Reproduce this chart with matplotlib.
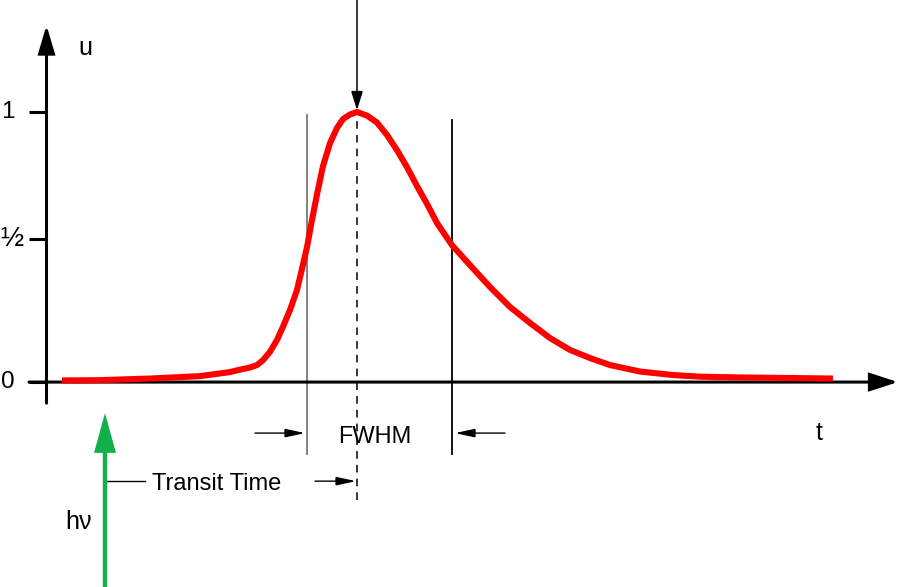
import matplotlib
matplotlib.use("Agg")
import matplotlib.pyplot as plt

plt.rcParams['font.family'] = ['Liberation Sans Narrow', 'Liberation Sans', 'DejaVu Sans']

# ---- Pulse response (t in drawing units, u normalised) ----
T_CURVE = [62, 100, 150, 200, 230, 240, 250, 257, 263, 270, 277, 283, 290, 297,
           303, 307, 312, 317, 323, 330, 337, 343, 350, 357, 367, 377, 387, 397,
           407, 417, 427, 437, 452, 470, 490, 510, 530, 550, 570, 590, 610, 640,
           673, 700, 740, 790, 833]
U_CURVE = [0.006, 0.007, 0.013, 0.022, 0.037, 0.046, 0.054, 0.063, 0.081, 0.112,
           0.156, 0.205, 0.267, 0.341, 0.435, 0.500, 0.600, 0.695, 0.800, 0.885,
           0.941, 0.974, 0.991, 1.000, 0.987, 0.961, 0.915, 0.859, 0.796, 0.726,
           0.660, 0.589, 0.507, 0.433, 0.352, 0.278, 0.219, 0.163, 0.119, 0.089,
           0.063, 0.039, 0.026, 0.020, 0.017, 0.015, 0.013]

TICK_U = [0.0, 0.53, 1.0]
TICK_LABELS = ["0", "\u00bd", "1"]

T_FWHM = [307, 452]      # half-maximum crossings
T_PEAK = 357             # peak / transit time
T_PHOTON = 105           # photon arrival (h nu)

U_BOTTOM, U_TOP = -0.759, 1.415

fig = plt.figure(figsize=(9.0, 5.87), dpi=100)
ax = fig.add_axes([0, 0, 1, 1])
ax.set_xlim(0, 900)
ax.set_ylim(U_BOTTOM, U_TOP)
ax.axis("off")


def arrow(x0, y0, x1, y1, lw=1.0, hl=12, hw=3, color="black"):
    ax.annotate("", xy=(x1, y1), xytext=(x0, y0),
                arrowprops=dict(arrowstyle="-|>,head_length=%g,head_width=%g" % (hl, hw),
                                mutation_scale=1, lw=lw, color=color,
                                shrinkA=0, shrinkB=0, joinstyle="miter"))


# ---- Axes with arrows ----
arrow(29, 0.0, 898, 0.0, lw=2.2, hl=17, hw=5.5)
arrow(46.5, -0.078, 46.5, 1.322, lw=2.2, hl=17, hw=5)
for tu, lab in zip(TICK_U, TICK_LABELS):
    ax.plot([29, 46.5], [tu, tu], color="black", lw=2.2, solid_capstyle="butt")
    if lab == "\u00bd":
        ax.text(0, tu, lab, ha="left", va="center", fontsize=20)
    else:
        ax.text(7.5, tu, lab, ha="center", va="center", fontsize=17.5)

ax.text(85, 1.211, "u", ha="center", va="baseline", fontsize=18)
ax.text(819, -0.215, "t", ha="center", va="baseline", fontsize=18)

# ---- FWHM markers ----
ax.plot([T_FWHM[0]] * 2, [-0.267, 0.989], color="#777777", lw=1.3)
ax.plot([T_FWHM[1]] * 2, [-0.267, 0.970], color="black", lw=1.3)
ax.plot([T_PEAK] * 2, [-0.437, 1.0], color="black", lw=1.1, linestyle=(0, (5, 4)))

# ---- Red pulse ----
ax.plot(T_CURVE, U_CURVE, color="#ff0000", lw=4.4, solid_joinstyle="round",
        solid_capstyle="butt", zorder=3)

# Peak arrow from the top
arrow(T_PEAK, U_TOP, T_PEAK, 1.007, lw=1.1, hl=11.5, hw=3.6)

# FWHM arrows and label
arrow(255, -0.189, 305, -0.189, lw=1.0, hl=12, hw=2.6)
arrow(505, -0.189, 455, -0.189, lw=1.0, hl=12, hw=2.6)
ax.text(375, -0.226, "FWHM", ha="center", va="baseline", fontsize=17)

# Photon arrival and transit time
arrow(T_PHOTON, U_BOTTOM, T_PHOTON, -0.115, lw=3.2, hl=21, hw=5.8, color="#12b04a")
ax.plot([T_PHOTON, 145], [-0.367, -0.367], color="black", lw=1.0)
ax.text(152, -0.40, "Transit Time", ha="left", va="baseline", fontsize=17)
arrow(315, -0.367, 356, -0.367, lw=1.0, hl=12, hw=2.6)
ax.text(79, -0.544, "h\u03bd", ha="center", va="baseline", fontsize=18)

fig.savefig("out.png", dpi=100)
